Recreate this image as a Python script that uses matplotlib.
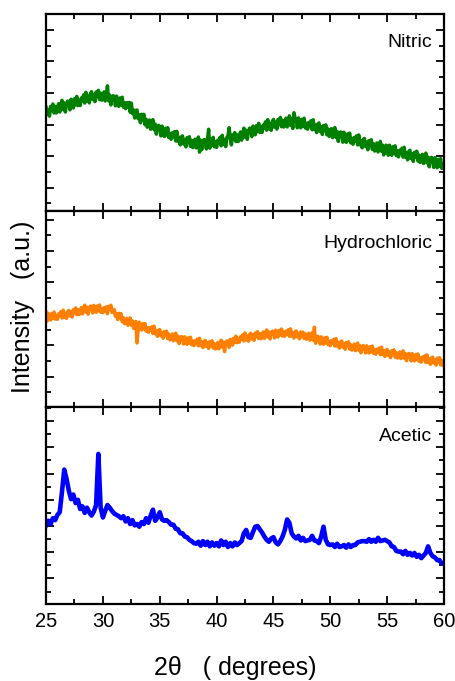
import numpy as np
import matplotlib
matplotlib.use("Agg")
import matplotlib.pyplot as plt
from matplotlib.ticker import MultipleLocator

plt.rcParams['font.family'] = ['Liberation Sans', 'DejaVu Sans']

# 2-theta sampling grids (degrees)
two_theta_fine = np.round(np.arange(25.0, 60.0001, 0.1), 1)    # Nitric, Hydrochloric
two_theta_coarse = np.round(np.arange(25.0, 60.0001, 0.2), 1)  # Acetic

nitric = [
    7.10, 6.63, 6.95, 6.53, 7.15, 6.88, 7.30, 6.73, 7.15, 6.73,   # 25
    6.90, 7.32, 6.79, 7.16, 7.53, 6.95, 7.37, 6.79, 7.31, 7.48,   # 26
    7.45, 6.93, 7.60, 7.23, 7.05, 7.63, 7.25, 7.78, 7.20, 7.53,   # 27
    7.20, 7.68, 7.51, 7.88, 7.36, 8.04, 7.47, 7.80, 7.37, 7.95,   # 28
    8.08, 7.59, 7.89, 7.45, 8.06, 7.77, 8.17, 7.58, 7.99, 7.54,   # 29
    7.70, 8.07, 7.49, 7.81, 8.45, 7.50, 7.87, 7.24, 7.71, 7.83,   # 30
    7.75, 7.18, 7.80, 7.38, 7.15, 7.68, 7.25, 7.73, 7.10, 7.38,   # 31
    7.00, 7.38, 7.11, 7.40, 6.78, 7.36, 6.69, 6.92, 6.41, 6.89,   # 32
    6.92, 6.37, 6.61, 6.11, 6.65, 6.30, 6.65, 5.99, 6.34, 5.83,   # 33
    5.93, 6.29, 5.70, 6.00, 6.31, 5.67, 6.03, 5.39, 5.84, 5.95,   # 34
    5.86, 5.28, 5.90, 5.47, 5.24, 5.76, 5.33, 5.80, 5.17, 5.44,   # 35
    5.06, 5.47, 5.23, 5.55, 4.96, 5.57, 4.93, 5.19, 4.71, 5.22,   # 36
    5.28, 4.76, 5.05, 4.58, 5.17, 4.85, 5.23, 4.62, 5.00, 4.54,   # 37
    4.67, 5.07, 4.52, 4.87, 5.21, 4.25, 5.01, 4.41, 4.91, 5.05,   # 38
    5.00, 4.45, 5.10, 5.70, 4.50, 5.07, 4.68, 5.19, 4.59, 4.90,   # 39
    4.55, 5.01, 4.83, 5.19, 4.65, 5.32, 4.73, 5.04, 4.60, 5.17,   # 40
    5.28, 5.80, 5.13, 4.71, 5.34, 5.07, 5.49, 4.92, 5.35, 4.92,   # 41
    5.10, 5.53, 5.01, 5.39, 5.77, 5.20, 5.63, 5.06, 5.59, 5.77,   # 42
    5.75, 5.23, 5.90, 5.53, 5.35, 5.93, 5.55, 6.08, 5.50, 5.83,   # 43
    5.50, 5.97, 5.79, 6.17, 5.64, 6.31, 5.73, 6.05, 5.63, 6.20,   # 44
    6.32, 5.83, 6.15, 5.71, 6.32, 6.04, 6.45, 5.86, 6.27, 5.84,   # 45
    6.00, 6.40, 5.85, 6.20, 6.55, 5.95, 6.35, 5.75, 6.75, 6.40,   # 46
    6.35, 5.79, 6.42, 6.01, 5.79, 6.33, 5.91, 6.40, 5.78, 6.07,   # 47
    5.70, 6.13, 5.91, 6.24, 5.67, 6.30, 5.68, 5.96, 5.49, 6.02,   # 48
    6.10, 5.57, 5.84, 5.37, 5.94, 5.61, 5.98, 5.35, 5.73, 5.25,   # 49
    5.37, 5.74, 5.17, 5.49, 5.81, 5.18, 5.56, 4.93, 5.40, 5.53,   # 50
    5.45, 4.88, 5.51, 5.09, 4.87, 5.40, 4.98, 5.46, 4.84, 5.12,   # 51
    4.75, 5.18, 4.95, 5.28, 4.71, 5.34, 4.71, 4.99, 4.52, 5.04,   # 52
    5.12, 4.60, 4.88, 4.40, 4.98, 4.66, 5.04, 4.42, 4.79, 4.32,   # 53
    4.45, 4.83, 4.26, 4.60, 4.93, 4.31, 4.69, 4.07, 4.56, 4.69,   # 54
    4.62, 4.05, 4.69, 4.27, 4.05, 4.59, 4.17, 4.65, 4.03, 4.32,   # 55
    3.95, 4.38, 4.16, 4.50, 3.93, 4.56, 3.94, 4.22, 3.76, 4.29,   # 56
    4.37, 3.85, 4.13, 3.66, 4.24, 3.93, 4.31, 3.69, 4.07, 3.60,   # 57
    3.73, 4.11, 3.53, 3.86, 4.19, 3.57, 3.94, 3.32, 3.80, 3.92,   # 58
    3.85, 3.28, 3.90, 3.48, 3.26, 3.79, 3.36, 3.84, 3.22, 3.49,   # 59
    3.55,
]

hydrochloric = [
    6.10, 5.55, 6.04, 5.74, 5.61, 6.03, 5.74, 6.12, 5.67, 5.91,   # 25
    5.66, 6.00, 5.86, 6.14, 5.74, 6.24, 5.80, 6.04, 5.72, 6.14,   # 26
    6.22, 5.87, 6.12, 5.80, 6.27, 6.06, 6.38, 5.95, 6.27, 5.96,   # 27
    6.09, 6.40, 6.00, 6.28, 6.55, 6.11, 6.42, 5.98, 6.38, 6.50,   # 28
    6.47, 6.06, 6.54, 6.24, 6.10, 6.50, 6.20, 6.57, 6.11, 6.34,   # 29
    6.08, 6.39, 6.21, 6.45, 6.01, 6.48, 6.30, 6.55, 6.10, 6.23,   # 30
    6.27, 5.85, 6.03, 5.64, 6.04, 5.76, 6.01, 5.51, 5.76, 5.38,   # 31
    5.44, 5.72, 5.28, 5.52, 5.75, 5.28, 5.55, 5.08, 5.43, 5.52,   # 32
    4.15, 5.02, 5.47, 5.15, 4.98, 5.37, 5.04, 5.39, 4.91, 5.12,   # 33
    4.83, 5.13, 4.96, 5.19, 4.75, 5.22, 4.74, 4.94, 4.57, 4.96,   # 34
    5.00, 4.61, 4.81, 4.45, 4.88, 4.63, 4.90, 4.43, 4.71, 4.35,   # 35
    4.44, 4.72, 4.29, 4.53, 4.77, 4.30, 4.58, 4.11, 4.47, 4.56,   # 36
    4.50, 4.08, 4.54, 4.23, 4.07, 4.47, 4.15, 4.51, 4.04, 4.26,   # 37
    3.98, 4.30, 4.14, 4.39, 3.97, 4.45, 3.99, 4.21, 3.86, 4.26,   # 38
    4.32, 3.94, 4.16, 3.80, 4.24, 4.00, 4.29, 3.83, 4.11, 3.77,   # 39
    3.87, 4.18, 3.78, 4.06, 4.33, 3.89, 4.20, 3.60, 4.16, 4.28,   # 40
    4.25, 3.87, 4.38, 4.12, 4.01, 4.45, 4.18, 4.58, 4.17, 4.43,   # 41
    4.20, 4.54, 4.41, 4.68, 4.28, 4.79, 4.35, 4.59, 4.26, 4.69,   # 42
    4.77, 4.41, 4.65, 4.32, 4.78, 4.56, 4.87, 4.43, 4.74, 4.42,   # 43
    4.54, 4.85, 4.44, 4.71, 4.98, 4.54, 4.84, 4.40, 4.79, 4.90,   # 44
    4.87, 4.47, 4.96, 4.66, 4.53, 4.95, 4.66, 5.04, 4.59, 4.83,   # 45
    4.58, 4.90, 4.74, 4.99, 4.57, 5.05, 4.59, 4.81, 4.46, 4.86,   # 46
    4.92, 4.54, 4.76, 4.41, 4.85, 4.61, 4.84, 4.44, 4.73, 4.39,   # 47
    4.49, 4.77, 4.33, 4.57, 4.80, 4.33, 5.15, 4.13, 4.48, 4.57,   # 48
    4.50, 4.08, 4.54, 4.23, 4.07, 4.47, 4.15, 4.51, 4.04, 4.26,   # 49
    3.98, 4.30, 4.13, 4.38, 3.95, 4.43, 3.96, 4.18, 3.82, 4.22,   # 50
    4.27, 3.89, 4.10, 3.75, 4.18, 3.94, 4.22, 3.76, 4.04, 3.70,   # 51
    3.79, 4.08, 3.66, 3.90, 4.15, 3.69, 3.98, 3.52, 3.88, 3.98,   # 52
    3.93, 3.51, 3.97, 3.66, 3.51, 3.91, 3.59, 3.95, 3.49, 3.70,   # 53
    3.43, 3.75, 3.58, 3.83, 3.41, 3.89, 3.42, 3.64, 3.29, 3.68,   # 54
    3.74, 3.36, 3.58, 3.22, 3.66, 3.42, 3.71, 3.25, 3.53, 3.19,   # 55
    3.29, 3.58, 3.16, 3.40, 3.65, 3.19, 3.48, 3.02, 3.38, 3.48,   # 56
    3.43, 3.01, 3.47, 3.16, 3.01, 3.41, 3.09, 3.45, 2.99, 3.20,   # 57
    2.93, 3.25, 3.09, 3.33, 2.91, 3.39, 2.93, 3.15, 2.79, 3.19,   # 58
    3.25, 2.87, 3.09, 2.74, 3.18, 2.94, 3.22, 2.76, 3.05, 2.71,   # 59
    2.95,
]

acetic = [
    6.05, 6.40, 6.15, 6.60, 6.45,
    6.85, 7.05, 8.60, 10.30, 9.60,
    8.70, 8.05, 8.40, 7.75, 8.00,
    7.30, 7.50, 7.00, 7.40, 7.05,
    6.80, 7.10, 7.60, 11.50, 7.40,
    6.65, 7.15, 7.60, 7.40, 7.15,
    6.95, 6.85, 6.75, 6.60, 6.75,
    6.35, 6.60, 6.15, 6.45, 6.05,
    6.15, 5.95, 6.30, 6.15, 6.60,
    6.25, 6.80, 7.25, 6.40, 6.65,
    7.05, 6.50, 6.40, 6.45, 6.30,
    6.10, 6.10, 5.80, 5.75, 5.45,
    5.45, 5.20, 5.15, 4.95, 4.85,
    4.70, 4.65, 4.80, 4.50, 4.85,
    4.55, 4.80, 4.45, 4.75, 4.50,
    4.70, 4.45, 4.90, 4.55, 4.80,
    4.40, 4.70, 4.45, 4.75, 4.55,
    4.70, 4.85, 5.45, 5.70, 5.15,
    5.10, 5.55, 5.95, 6.00, 5.75,
    5.50, 5.20, 4.95, 4.80, 5.05,
    5.15, 4.75, 4.60, 4.85, 5.20,
    5.70, 6.50, 6.25, 5.45, 5.20,
    5.05, 5.25, 4.90, 5.10, 4.85,
    4.90, 4.95, 5.25, 4.90, 4.85,
    4.70, 5.20, 5.95, 4.95, 4.60,
    4.55, 4.60, 4.40, 4.65, 4.40,
    4.45, 4.55, 4.35, 4.60, 4.40,
    4.55, 4.55, 4.75, 4.80, 4.85,
    4.85, 4.80, 5.00, 4.80, 4.95,
    4.80, 5.10, 4.85, 4.90, 4.95,
    4.85, 4.75, 4.45, 4.40, 4.10,
    4.05, 4.05, 3.85, 4.10, 3.80,
    3.95, 3.75, 3.95, 3.65, 3.80,
    3.55, 3.75, 3.95, 4.45, 3.95,
    3.70, 3.60, 3.40, 3.40, 3.15,
    3.10,
]

panel_names = ["Nitric", "Hydrochloric", "Acetic"]
panel_x = [two_theta_fine, two_theta_fine, two_theta_coarse]
panel_series = [nitric, hydrochloric, acetic]
panel_colors = ["#008000", "#FF8000", "#0000FF"]
panel_lw = [2.5, 2.5, 3.3]
panel_ylims = [(0.54, 13.0), (0.05, 12.57), (0.05, 15.05)]
label_y = [0.855, 0.835, 0.85]
x_ticks = [25, 30, 35, 40, 45, 50, 55, 60]

fig = plt.figure(figsize=(4.56, 6.81), dpi=100)
gs = fig.add_gridspec(3, 1, left=0.101, right=0.9737, bottom=0.113, top=0.9794, hspace=0)
axes = [fig.add_subplot(gs[i]) for i in range(3)]

for i, ax in enumerate(axes):
    ax.plot(panel_x[i], panel_series[i], color=panel_colors[i], lw=panel_lw[i], solid_joinstyle='round')
    ax.set_xlim(25, 60)
    ax.set_ylim(*panel_ylims[i])
    ax.set_xticks(x_ticks)
    ax.xaxis.set_minor_locator(MultipleLocator(2.5))
    ax.yaxis.set_major_locator(MultipleLocator(2))
    ax.yaxis.set_minor_locator(MultipleLocator(1))
    ax.tick_params(which='both', direction='in', top=True, right=True, width=1.3)
    ax.tick_params(which='major', length=6)
    ax.tick_params(which='minor', length=3.5)
    ax.tick_params(axis='y', labelleft=False)
    ax.tick_params(axis='x', labelsize=14.5, pad=6, labelbottom=(i == 2))
    for sp in ax.spines.values():
        sp.set_linewidth(1.6)
    ax.text(0.97, label_y[i], panel_names[i], transform=ax.transAxes, ha='right', va='center', fontsize=14)

axes[2].set_xlabel("2\u03b8   ( degrees)", fontsize=18, labelpad=18)
axes[2].xaxis.label.set_x(0.475)
fig.text(0.05, 0.549, "Intensity   (a.u.)", rotation=90, ha='center', va='center', fontsize=18)

fig.savefig("out.png", dpi=100)
